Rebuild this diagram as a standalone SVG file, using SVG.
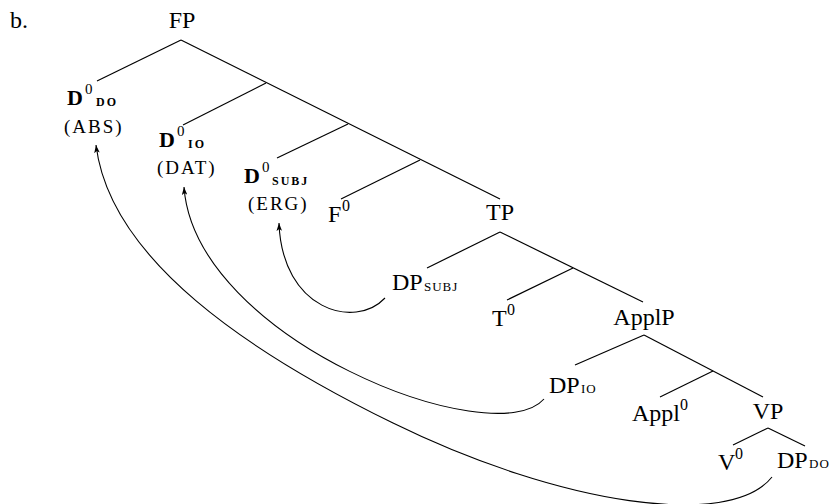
<svg xmlns="http://www.w3.org/2000/svg" width="829" height="504" viewBox="0 0 829 504">
<style>
  text { font-family: "Liberation Serif", "Times New Roman", serif; fill: #000; }
  .lab { font-size: 24px; }
  .sup { font-size: 16px; }
  .dsup { font-size: 15px; }
  .bd { font-size: 22px; font-weight: bold; }
  .bsc { font-size: 12px; font-weight: bold; letter-spacing: 2px; }
  .sc { font-size: 13px; letter-spacing: 1px; }
  .case { font-size: 19px; letter-spacing: 2px; }
  .edge { stroke: #000; stroke-width: 1.2; fill: none; }
  .mv { stroke: #000; stroke-width: 1.1; fill: none; marker-end: url(#ah); }
</style>
<defs>
  <marker id="ah" viewBox="0 0 10 7" markerUnits="userSpaceOnUse" markerWidth="8" markerHeight="5.6" refX="10" refY="3.5" orient="auto">
    <path d="M0,0 L10,3.5 L0,7 L2.5,3.5 Z" fill="#000"/>
  </marker>
</defs>
<rect width="829" height="504" fill="#fff"/>
<text class="lab" x="10" y="28">b.</text>

<g id="connectors">
  <line class="edge" x1="181" y1="40" x2="97" y2="81"/>
  <line class="edge" x1="181" y1="40" x2="500" y2="199"/>
  <line class="edge" x1="266" y1="83" x2="183" y2="125"/>
  <line class="edge" x1="348" y1="124" x2="277" y2="158"/>
  <line class="edge" x1="420" y1="160" x2="341" y2="199"/>
  <line class="edge" x1="500" y1="232" x2="427" y2="268"/>
  <line class="edge" x1="500" y1="232" x2="643" y2="302"/>
  <line class="edge" x1="573" y1="268" x2="507" y2="300"/>
  <line class="edge" x1="644" y1="335" x2="575" y2="365"/>
  <line class="edge" x1="644" y1="335" x2="763" y2="397"/>
  <line class="edge" x1="713" y1="371" x2="660" y2="397"/>
  <line class="edge" x1="768" y1="428" x2="733" y2="445"/>
  <line class="edge" x1="768" y1="428" x2="805" y2="446"/>
  <path class="mv" d="M385,298 C355,330 282,310 279,223"/>
  <path class="mv" d="M544,399 C495,455 195,340 184,187"/>
  <path class="mv" d="M772,477 C730,530 560,505 393,423 C250,353 110,260 96,145"/>
</g>

<g id="FP"><text class="lab" x="182" y="28" text-anchor="middle">FP</text></g>
<g id="D0_DO">
  <text class="bd" x="67" y="105">D</text>
  <text class="dsup" x="85" y="94">0</text>
  <text class="bsc" x="96" y="106">DO</text>
  <text class="case" x="64" y="133">(ABS)</text>
</g>
<g id="D0_IO">
  <text class="bd" x="159" y="147">D</text>
  <text class="dsup" x="177" y="136">0</text>
  <text class="bsc" x="188" y="148">IO</text>
  <text class="case" x="157" y="174">(DAT)</text>
</g>
<g id="D0_SUBJ">
  <text class="bd" x="244" y="183">D</text>
  <text class="dsup" x="262" y="172">0</text>
  <text class="bsc" x="272" y="185">SUBJ</text>
  <text class="case" x="248" y="210">(ERG)</text>
</g>
<g id="F0">
  <text class="lab" x="328" y="222">F</text>
  <text class="sup" x="342" y="211">0</text>
</g>
<g id="TP"><text class="lab" x="500" y="220" text-anchor="middle">TP</text></g>
<g id="DP_SUBJ">
  <text class="lab" x="392" y="290">DP</text>
  <text class="sc" x="424" y="291">SUBJ</text>
</g>
<g id="T0">
  <text class="lab" x="492" y="326">T</text>
  <text class="sup" x="507" y="315">0</text>
</g>
<g id="ApplP"><text class="lab" x="644" y="325" text-anchor="middle">ApplP</text></g>
<g id="DP_IO">
  <text class="lab" x="549" y="393">DP</text>
  <text class="sc" x="581" y="393">IO</text>
</g>
<g id="Appl0">
  <text class="lab" x="632" y="421">Appl</text>
  <text class="sup" x="680" y="410">0</text>
</g>
<g id="VP"><text class="lab" x="768" y="419" text-anchor="middle">VP</text></g>
<g id="V0">
  <text class="lab" x="718" y="470">V</text>
  <text class="sup" x="735" y="459">0</text>
</g>
<g id="DP_DO">
  <text class="lab" x="777" y="468">DP</text>
  <text class="sc" x="809" y="468">DO</text>
</g>
</svg>
